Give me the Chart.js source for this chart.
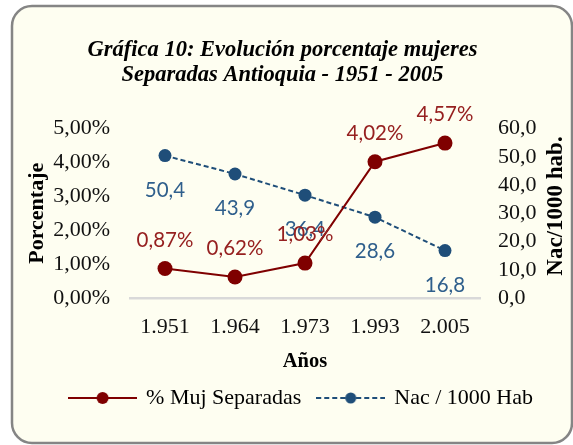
<!DOCTYPE html>
<html>
<head>
<meta charset="utf-8">
<script src="https://cdn.jsdelivr.net/npm/chart.js@4.4.1/dist/chart.umd.min.js"></script>
<style>
  html, body { margin: 0; padding: 0; background: #ffffff; }
  #wrap { width: 573px; height: 445px; }
</style>
</head>
<body>
<div id="wrap"><canvas id="c" width="573" height="445"></canvas></div>
<script>
const titleLines = ['Gráfica 10: Evolución porcentaje mujeres', 'Separadas Antioquia - 1951 - 2005'];
const years = ['1.951', '1.964', '1.973', '1.993', '2.005'];
const seriesNames = ['% Muj Separadas', 'Nac / 1000 Hab'];
const mujSeparadas = [0.87, 0.62, 1.03, 4.02, 4.57];
const nacPor1000 = [50.4, 43.9, 36.4, 28.6, 16.8];
const leftAxisTitle = 'Porcentaje';
const rightAxisTitle = 'Nac/1000 hab.';
const bottomAxisTitle = 'Años';

const RED = '#7f0000';
const RED_LABEL = '#962020';
const BLUE = '#1f4e79';
const BLUE_LABEL = '#2f5f8c';
const SERIF = '"Liberation Serif", "Times New Roman", serif';
const SANS = 'Lato, "Open Sans", sans-serif';

function legendSwatch(color, dashed, radius) {
  const cv = document.createElement('canvas');
  cv.width = 69; cv.height = 16;
  const g = cv.getContext('2d');
  g.strokeStyle = color; g.lineWidth = 2;
  if (dashed) g.setLineDash([5, 3]);
  g.beginPath(); g.moveTo(0, 8); g.lineTo(69, 8); g.stroke();
  g.setLineDash([]);
  g.fillStyle = color;
  g.beginPath(); g.arc(34.5, 8, radius, 0, Math.PI * 2); g.fill();
  return cv;
}
const swatches = [legendSwatch(RED, false, 6), legendSwatch(BLUE, true, 5.5)];

const frame = {
  id: 'frame',
  beforeDraw(chart) {
    const ctx = chart.ctx;
    ctx.save();
    ctx.fillStyle = '#ffffff';
    ctx.fillRect(0, 0, chart.width, chart.height);
    const x = 12, y = 6, w = 560, h = 437, r = 20;
    ctx.beginPath();
    ctx.moveTo(x + r, y);
    ctx.lineTo(x + w - r, y);
    ctx.arcTo(x + w, y, x + w, y + r, r);
    ctx.lineTo(x + w, y + h - r);
    ctx.arcTo(x + w, y + h, x + w - r, y + h, r);
    ctx.lineTo(x + r, y + h);
    ctx.arcTo(x, y + h, x, y + h - r, r);
    ctx.lineTo(x, y + r);
    ctx.arcTo(x, y, x + r, y, r);
    ctx.closePath();
    ctx.fillStyle = '#fefef1';
    ctx.fill();
    ctx.lineWidth = 2.5;
    ctx.strokeStyle = '#858585';
    ctx.stroke();
    ctx.restore();
  },
  afterLayout(chart) {
    chart.legend.left += 19;
    chart.legend.right += 19;
    chart.legend.top -= 4;
    chart.legend.bottom -= 4;
  },
  afterDatasetsDraw(chart) {
    const ctx = chart.ctx;
    ctx.save();
    ctx.font = '20.5px ' + SANS;
    ctx.textAlign = 'center';
    ctx.textBaseline = 'alphabetic';
    const mb = chart.getDatasetMeta(1);
    ctx.fillStyle = BLUE_LABEL;
    mb.data.forEach((pt, i) => {
      ctx.fillText(nacPor1000[i].toFixed(1).replace('.', ','), pt.x, pt.y + 41);
    });
    const mr = chart.getDatasetMeta(0);
    ctx.fillStyle = RED_LABEL;
    mr.data.forEach((pt, i) => {
      ctx.fillText(mujSeparadas[i].toFixed(2).replace('.', ',') + '%', pt.x, pt.y - 22);
    });
    ctx.restore();
  },
  afterDraw(chart) {
    const ctx = chart.ctx;
    ctx.save();
    ctx.translate(556, 206);
    ctx.rotate(-Math.PI / 2);
    ctx.font = 'bold 23px ' + SERIF;
    ctx.fillStyle = '#000';
    ctx.textAlign = 'center';
    ctx.textBaseline = 'middle';
    ctx.fillText(rightAxisTitle, 0, 0);
    ctx.restore();
  }
};

new Chart(document.getElementById('c'), {
  type: 'line',
  data: {
    labels: years,
    datasets: [
      {
        label: seriesNames[0],
        data: mujSeparadas,
        yAxisID: 'y',
        borderColor: RED,
        backgroundColor: RED,
        borderWidth: 2,
        pointRadius: 7.5,
        pointBackgroundColor: RED,
        pointBorderColor: RED,
        pointBorderWidth: 0,
        tension: 0
      },
      {
        label: seriesNames[1],
        data: nacPor1000,
        yAxisID: 'y1',
        borderColor: BLUE,
        backgroundColor: BLUE,
        borderWidth: 2,
        borderDash: [5, 3],
        pointRadius: 6.5,
        pointBackgroundColor: BLUE,
        pointBorderColor: BLUE,
        pointBorderWidth: 0,
        tension: 0
      }
    ]
  },
  plugins: [frame],
  options: {
    responsive: false,
    animation: false,
    devicePixelRatio: 1,
    layout: { padding: { left: 14, right: 22, top: 0, bottom: 22 } },
    plugins: {
      tooltip: { enabled: false },
      title: {
        display: true,
        text: titleLines,
        color: '#000',
        font: { family: SERIF, size: 22.5, weight: 'bold', style: 'italic', lineHeight: 1.111 },
        padding: { top: 37.5, bottom: 41 }
      },
      legend: {
        display: true,
        position: 'bottom',
        labels: {
          usePointStyle: true,
          pointStyleWidth: 65,
          padding: 17,
          color: '#000',
          font: { family: SERIF, size: 22 },
          generateLabels(chart) {
            return seriesNames.map((t, i) => ({
              text: t,
              fillStyle: i === 0 ? RED : BLUE,
              strokeStyle: i === 0 ? RED : BLUE,
              lineWidth: 0,
              pointStyle: swatches[i],
              fontColor: '#000',
              hidden: false,
              datasetIndex: i
            }));
          }
        }
      }
    },
    scales: {
      x: {
        type: 'category',
        offset: true,
        grid: { display: false, drawTicks: false },
        border: { display: true, color: '#d9d9d9', width: 2.5 },
        ticks: { color: '#111', font: { family: SERIF, size: 22 }, padding: 16 },
        title: {
          display: true, text: bottomAxisTitle, color: '#000',
          font: { family: SERIF, size: 20.5, weight: 'bold' },
          padding: { top: 0, bottom: 0 }
        },
        afterFit(s) { s.height = 76; }
      },
      y: {
        position: 'left',
        min: 0, max: 5,
        grid: { display: false, drawTicks: false },
        border: { display: false },
        ticks: {
          stepSize: 1, autoSkip: false, color: '#111', padding: 20,
          font: { family: SERIF, size: 22 },
          callback: v => v.toFixed(2).replace('.', ',') + '%'
        },
        title: {
          display: true, text: leftAxisTitle, color: '#000',
          font: { family: SERIF, size: 22, weight: 'bold' },
          padding: { top: 10, bottom: 0 }
        },
        afterFit(s) { s.width = 116; }
      },
      y1: {
        position: 'right',
        min: 0, max: 60,
        grid: { display: false, drawTicks: false },
        border: { display: false },
        ticks: {
          stepSize: 10, autoSkip: false, color: '#111', padding: 18,
          font: { family: SERIF, size: 22 },
          callback: v => v.toFixed(1).replace('.', ',')
        },
        afterFit(s) { s.width = 71; }
      }
    }
  }
});
</script>
</body>
</html>
